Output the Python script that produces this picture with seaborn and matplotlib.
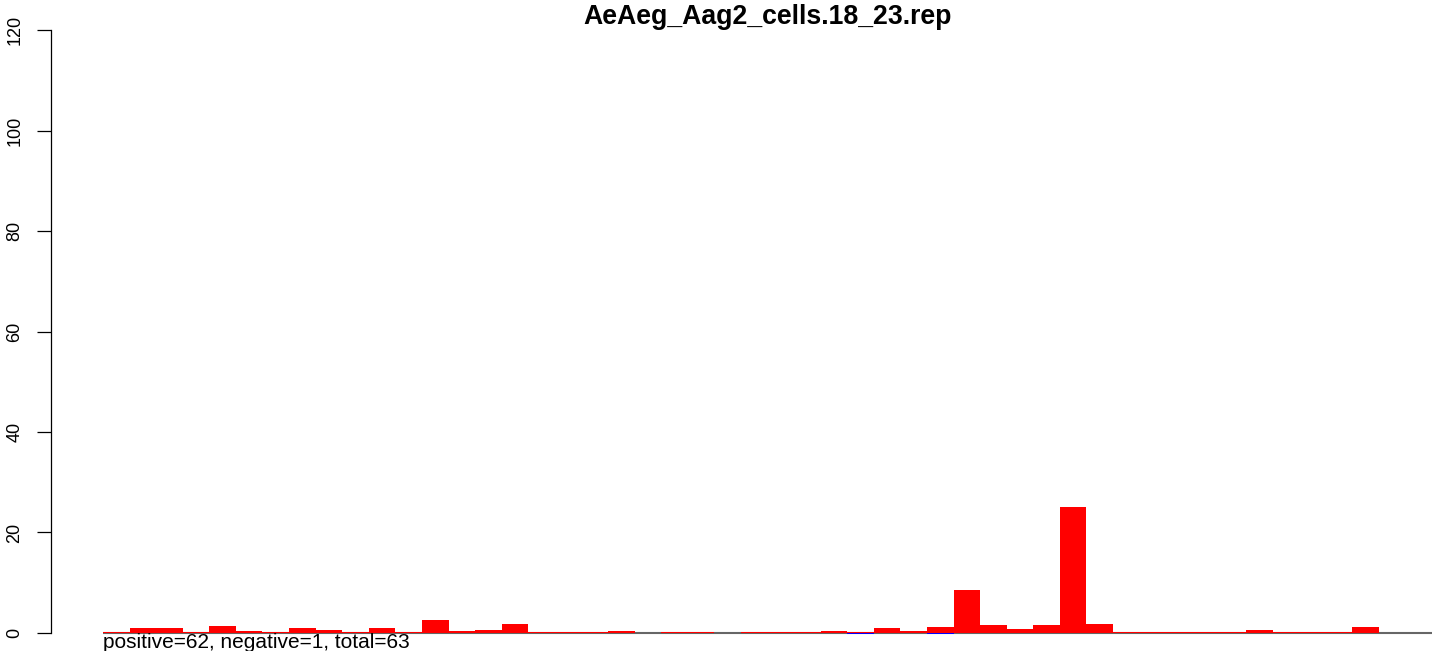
import matplotlib
matplotlib.use('Agg')
import matplotlib.pyplot as plt
import seaborn as sns
import pandas as pd
import numpy as np

# bin index along the sequence (50 bins)
positions = list(range(50))

# positive (red) values per bin
positive = [0.1, 1.06, 1.06, 0.1, 1.4, 0.46, 0.1, 1.06, 0.66, 0.27,
            1.06, 0.27, 2.65, 0.46, 0.66, 1.86, 0.1, 0.27, 0.27, 0.46,
            0.0, 0.27, 0.1, 0.0, 0.1, 0.1, 0.27, 0.46, 0.27, 1.06,
            0.46, 1.26, 8.56, 1.66, 0.86, 1.66, 25.07, 1.86, 0.1, 0.1,
            0.27, 0.1, 0.27, 0.66, 0.1, 0.1, 0.1, 1.26, 0.0, 0.0]

# negative (blue) values per bin
negative = [0.0, -0.1, -0.1, -0.1, 0.0, 0.0, 0.0, -0.1, 0.0, 0.0,
            -0.1, -0.1, 0.0, 0.0, 0.0, 0.0, 0.0, 0.0, -0.1, -0.1,
            0.0, 0.0, 0.0, 0.0, 0.0, 0.0, 0.0, -0.1, -0.3, 0.0,
            0.0, -0.3, -0.1, -0.1, 0.0, 0.0, 0.0, 0.0, 0.0, 0.0,
            0.0, 0.0, -0.1, 0.0, 0.0, 0.0, 0.0, -0.1, 0.0, 0.0]

title = 'AeAeg_Aag2_cells.18_23.rep'
summary = 'positive=62, negative=1, total=63'
yticks = [0, 20, 40, 60, 80, 100, 120]

df = pd.DataFrame({'pos': positions, 'positive': positive, 'negative': negative})

sns.set_style('white')
plt.rcParams['font.family'] = ['Liberation Sans', 'DejaVu Sans']
plt.rcParams['text.color'] = 'black'
plt.rcParams['ytick.color'] = 'black'
plt.rcParams['ytick.labelcolor'] = 'black'

W, H = 1433, 651
fig = plt.figure(figsize=(W / 100, H / 100), dpi=100)
ax = fig.add_axes([51 / W, 1 - 643 / H, 1 - 51 / W, 623 / H])

ax.hlines(0, -0.5, 49.5, color='#666666', linewidth=1.5, zorder=0)
sns.barplot(data=df, x='pos', y='positive', color='#ff0000', width=1,
            linewidth=0, saturation=1, native_scale=True, ax=ax, zorder=2)
sns.barplot(data=df, x='pos', y='negative', color='#0000ff', width=1,
            linewidth=0, saturation=1, native_scale=True, ax=ax, zorder=1)

ax.set_xlim(-0.5 - 52 / 26.59, 49.5 + 1 / 26.59)
ax.set_ylim(-2, 122)
ax.set_xlabel('')
ax.set_ylabel('')
ax.set_xticks([])
ax.set_yticks(yticks)
ax.set_yticklabels([str(t) for t in yticks], rotation=90, va='center', fontsize=13,
                   color='black')
ax.tick_params(axis='y', length=10, width=0.9, pad=10, left=True, color='black')

for s in ['top', 'right', 'bottom']:
    ax.spines[s].set_visible(False)
ax.spines['left'].set_bounds(0, 120)
ax.spines['left'].set_linewidth(0.9)
ax.spines['left'].set_color('black')

fig.text(768 / W, 1 - 23.5 / H, title, ha='center', va='baseline',
         fontsize=19.2, fontweight='bold', color='black')
fig.text(103 / W, 1 - 647.5 / H, summary, ha='left', va='baseline', fontsize=15,
         color='black')

fig.savefig('out.png', dpi=100)
